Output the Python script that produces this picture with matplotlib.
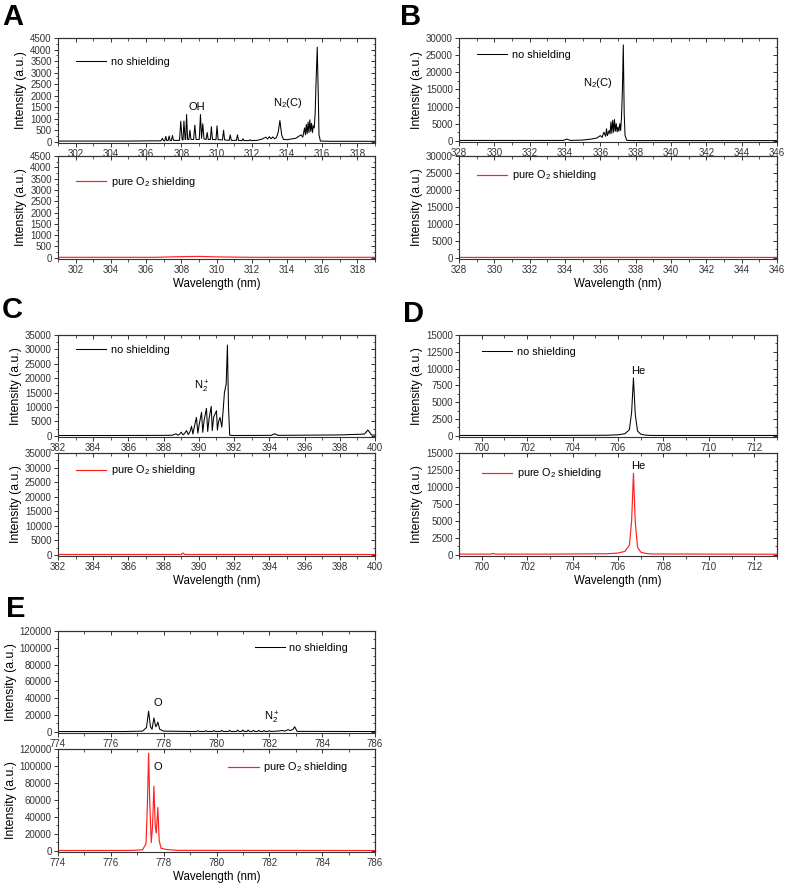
import matplotlib
matplotlib.use("Agg")
import matplotlib.pyplot as plt
from matplotlib.ticker import MultipleLocator

plt.rcParams["font.family"] = ["Liberation Sans", "DejaVu Sans"]
plt.rcParams["mathtext.fontset"] = "custom"
plt.rcParams["mathtext.rm"] = "Liberation Sans"
plt.rcParams["mathtext.it"] = "Liberation Sans"
plt.rcParams["mathtext.default"] = "regular"

# ---- spectra (wavelength nm, intensity a.u.) ----
a_top_x = [301.0, 303.0, 305.0, 306.5, 306.85, 306.93, 307.0, 307.06, 307.12, 307.18, 307.25,
           307.31, 307.37, 307.44, 307.5, 307.56, 307.9, 307.97, 308.05, 308.1, 308.15, 308.22,
           308.25, 308.3, 308.36, 308.43, 308.49, 308.55, 308.7, 308.77, 308.84, 309.02, 309.09,
           309.15, 309.22, 309.29, 309.41, 309.47, 309.53, 309.65, 309.71, 309.77, 309.97, 310.03,
           310.09, 310.34, 310.4, 310.46, 310.72, 310.78, 310.84, 311.13, 311.19, 311.25, 311.45,
           311.5, 311.55, 311.85, 311.9, 311.95, 312.3, 312.6, 312.8, 312.9, 313.0, 313.1, 313.2,
           313.3, 313.4, 313.5, 313.6, 313.7, 313.8, 314.0, 314.5, 314.8, 314.9, 315.0, 315.05,
           315.1, 315.15, 315.2, 315.25, 315.3, 315.35, 315.4, 315.45, 315.5, 315.55, 315.6,
           315.65, 315.72, 315.78, 315.82, 315.9, 316.5, 319.0]
a_top_y = [30, 30, 30, 40, 40, 150, 40, 40, 230, 50, 50,
           250, 50, 50, 270, 60, 60, 890, 80, 80, 900, 100,
           100, 1180, 100, 100, 500, 100, 100, 720, 100, 100, 1180,
           150, 780, 120, 100, 400, 100, 100, 650, 100, 90, 690,
           90, 80, 500, 80, 60, 300, 60, 60, 300, 60, 50,
           130, 50, 50, 90, 50, 60, 120, 200, 120, 220, 130, 210,
           130, 180, 400, 920, 300, 100, 90, 150, 300, 200, 600, 300,
           750, 350, 850, 400, 950, 450, 800, 400, 700, 600, 1200,
           2500, 4100, 2000, 300, 30, 20, 20]

a_bot_x = [301.0, 306.5, 308.0, 309.0, 310.0, 312.0, 319.0]
a_bot_y = [20, 20, 50, 60, 40, 20, 20]

b_top_x = [328.0, 331.0, 333.9, 334.1, 334.3, 335.0, 335.5, 335.8, 336.0, 336.1, 336.2, 336.3,
           336.35, 336.4, 336.5, 336.55, 336.6, 336.65, 336.7, 336.75, 336.8, 336.85, 336.9,
           336.95, 337.0, 337.05, 337.1, 337.15, 337.2, 337.25, 337.3, 337.35, 337.4, 337.5,
           338.0, 346.0]
b_top_y = [100, 100, 100, 500, 100, 200, 500, 800, 1500, 1000, 2500, 1300,
           3500, 1500, 3000, 2000, 5500, 2200, 6000, 2500, 6200, 2800, 5000,
           2600, 4000, 2800, 5000, 3000, 7000, 15000, 28000, 8000, 1500, 100,
           50, 50]

b_bot_x = [328.0, 337.0, 346.0]
b_bot_y = [100, 120, 100]

c_top_x = [382.0, 385.0, 388.0, 388.5, 388.7, 388.8, 388.9, 389.0, 389.1, 389.2, 389.3, 389.4,
           389.5, 389.58, 389.66, 389.72, 389.86, 389.94, 390.02, 390.15, 390.22, 390.3, 390.43,
           390.5, 390.58, 390.7, 390.76, 390.84, 391.0, 391.05, 391.12, 391.2, 391.3, 391.38,
           391.45, 391.55, 391.62, 391.68, 391.75, 392.0, 394.1, 394.3, 394.5, 398.0, 399.0,
           399.4, 399.6, 399.8, 400.0]
c_top_y = [100, 100, 150, 200, 700, 200, 500, 1250, 300, 900, 1800, 400,
           1500, 3300, 600, 2500, 6400, 900, 4000, 8100, 1200, 5500, 9500,
           1500, 6000, 10200, 1800, 6500, 8700, 2000, 5000, 6400, 3000, 9000,
           15000, 18000, 31500, 10000, 200, 100, 150, 700, 150, 300, 500,
           600, 2000, 300, 200]

c_bot_x = [382.0, 389.0, 389.1, 389.2, 400.0]
c_bot_y = [100, 100, 600, 100, 100]

d_top_x = [699.0, 703.0, 705.5, 706.0, 706.3, 706.5, 706.6, 706.68, 706.76, 706.86, 707.0,
           707.2, 707.5, 713.0]
d_top_y = [50, 50, 80, 150, 300, 900, 3500, 8600, 3200, 700, 250, 100, 50, 50]

d_bot_x = [699.0, 700.4, 700.5, 700.6, 703.0, 705.5, 706.0, 706.3, 706.5, 706.6, 706.68,
           706.76, 706.86, 707.0, 707.2, 707.5, 713.0]
d_bot_y = [100, 100, 200, 100, 100, 150, 250, 500, 1400, 5000, 12000, 4800, 1100, 400,
           200, 120, 80]

e_top_x = [774.0, 776.5, 777.2, 777.35, 777.43, 777.5, 777.56, 777.63, 777.7, 777.74, 777.78,
           777.85, 778.0, 779.0, 779.25, 779.3, 779.35, 779.55, 779.6, 779.65, 779.85, 779.9,
           779.95, 780.15, 780.2, 780.25, 780.45, 780.5, 780.55, 780.75, 780.8, 780.85, 780.95,
           781.0, 781.05, 781.15, 781.2, 781.25, 781.35, 781.4, 781.45, 781.55, 781.6, 781.65,
           781.75, 781.8, 781.85, 781.95, 782.0, 782.05, 782.3, 782.5, 782.6, 782.7, 782.8,
           782.9, 782.96, 783.05, 786.0]
e_top_y = [300, 300, 800, 5000, 24500, 6000, 3000, 16500, 6000, 8000, 11500,
           3000, 800, 400, 400, 1200, 400, 400, 1300, 400, 400, 1500,
           400, 400, 1600, 400, 400, 1800, 400, 400, 2000, 400, 400,
           2200, 400, 400, 2000, 400, 400, 1800, 400, 400, 1700, 400,
           400, 1500, 400, 400, 1400, 400, 800, 1500, 800, 2500, 1500,
           3000, 6000, 500, 300]

e_bot_x = [774.0, 776.8, 777.2, 777.33, 777.38, 777.43, 777.47, 777.53, 777.58, 777.63, 777.68,
           777.72, 777.78, 777.83, 777.9, 778.1, 778.5, 786.0]
e_bot_y = [300, 400, 1200, 8000, 50000, 115000, 60000, 9700, 30000, 76000, 30000, 21000,
           51000, 12000, 3000, 1500, 500, 300]

# ---- panel settings: x range, x tick step, y max, y major step ----
panels = {
    "A": dict(xlim=(301, 319), xmaj=2, ymax=4500, ystep=500,
              top=(a_top_x, a_top_y), bot=(a_bot_x, a_bot_y)),
    "B": dict(xlim=(328, 346), xmaj=2, ymax=30000, ystep=5000,
              top=(b_top_x, b_top_y), bot=(b_bot_x, b_bot_y)),
    "C": dict(xlim=(382, 400), xmaj=2, ymax=35000, ystep=5000,
              top=(c_top_x, c_top_y), bot=(c_bot_x, c_bot_y)),
    "D": dict(xlim=(699, 713), xmaj=2, ymax=15000, ystep=2500,
              top=(d_top_x, d_top_y), bot=(d_bot_x, d_bot_y)),
    "E": dict(xlim=(774, 786), xmaj=2, ymax=120000, ystep=20000,
              top=(e_top_x, e_top_y), bot=(e_bot_x, e_bot_y)),
}

# pixel boxes (left, top, right, bottom) for the upper and lower axes
boxes = {
    "A": ((58, 38, 375, 143), (58, 156, 375, 259)),
    "B": ((459, 38, 777, 142), (459, 156, 777, 259)),
    "C": ((58, 335, 375, 437), (58, 453, 375, 556)),
    "D": ((459, 335, 777, 437), (459, 453, 777, 556)),
    "E": ((58, 631, 375, 733), (58, 749, 375, 852)),
}
# legend anchors (axes fraction) for upper / lower axes
legend_anchor = {
    "A": ((0.057, 0.82), (0.057, 0.82)),
    "B": ((0.057, 0.885), (0.057, 0.88)),
    "C": ((0.057, 0.9), (0.057, 0.9)),
    "D": ((0.072, 0.88), (0.072, 0.87)),
    "E": ((0.915, 0.88), (0.915, 0.89)),
}
letter_pos = {"A": (2, 3), "B": (400, 3), "C": (2, 296), "D": (403, 300), "E": (6, 595)}

W, H = 787, 889
fig = plt.figure(figsize=(W / 100, H / 100), dpi=100)
fig.patch.set_facecolor("white")

SPINE = "#333333"


def add_axes_px(box):
    x0, y0, x1, y1 = box
    return fig.add_axes([x0 / W, 1 - y1 / H, (x1 - x0) / W, (y1 - y0) / H])


def set_ticks(axis, step):
    axis.set_major_locator(MultipleLocator(step))
    axis.set_minor_locator(MultipleLocator(step / 2))


def style_axes(ax, p):
    ax.set_xlim(*p["xlim"])
    ax.set_ylim(-p["ymax"] * 0.012, p["ymax"])
    set_ticks(ax.xaxis, p["xmaj"])
    set_ticks(ax.yaxis, p["ystep"])
    ax.tick_params(which="both", direction="out", labelsize=7, colors=SPINE, pad=1.5)
    ax.tick_params(which="major", length=3, width=0.7)
    ax.tick_params(which="minor", length=1.8, width=0.6)
    for s in ax.spines.values():
        s.set_color(SPINE)
        s.set_linewidth(0.8)
    # mirrored inward ticks on top and right
    sx = ax.secondary_xaxis("top")
    set_ticks(sx.xaxis, p["xmaj"])
    sx.tick_params(which="both", direction="in", labeltop=False, colors=SPINE)
    sx.tick_params(which="major", length=3, width=0.7)
    sx.tick_params(which="minor", length=1.8, width=0.6)
    sy = ax.secondary_yaxis("right")
    set_ticks(sy.yaxis, p["ystep"])
    sy.tick_params(which="both", direction="in", labelright=False, colors=SPINE)
    sy.tick_params(which="major", length=3, width=0.7)
    sy.tick_params(which="minor", length=1.8, width=0.6)
    ax.set_ylabel("Intensity (a.u.)", fontsize=8.8, labelpad=2)


axes = {}
for key, p in panels.items():
    ax_t = add_axes_px(boxes[key][0])
    ax_b = add_axes_px(boxes[key][1])
    style_axes(ax_t, p)
    style_axes(ax_b, p)
    ax_t.plot(*p["top"], color="black", lw=0.75, label="no shielding")
    ax_b.plot(*p["bot"], color="#ff2020", lw=0.85, label="pure O$_2$ shielding")
    ax_b.set_xlabel("Wavelength (nm)", fontsize=8.3, labelpad=2)
    loc = "upper right" if key == "E" else "upper left"
    for a, anc in zip((ax_t, ax_b), legend_anchor[key]):
        a.legend(loc=loc, bbox_to_anchor=anc, frameon=False, fontsize=7.8,
                 handlelength=2.8, handletextpad=0.4, borderaxespad=0, borderpad=0)
    fig.text(letter_pos[key][0] / W, 1 - letter_pos[key][1] / H, key, fontsize=21,
             fontweight="bold", ha="left", va="top")
    axes[key] = (ax_t, ax_b)

# peak labels
ann = 8
axes["A"][0].text(308.87, 1490, "OH", ha="center", va="center", fontsize=ann)
axes["A"][0].text(314.06, 1660, "N$_2$(C)", ha="center", va="center", fontsize=ann)
axes["B"][0].text(335.86, 16900, "N$_2$(C)", ha="center", va="center", fontsize=ann)
axes["C"][0].text(390.14, 17000, "N$_2^+$", ha="center", va="center", fontsize=ann)
axes["D"][0].text(706.9, 9600, "He", ha="center", va="center", fontsize=ann)
axes["D"][1].text(706.9, 13050, "He", ha="center", va="center", fontsize=ann)
axes["E"][0].text(777.76, 33900, "O", ha="center", va="center", fontsize=ann)
axes["E"][0].text(782.08, 16400, "N$_2^+$", ha="center", va="center", fontsize=ann)
axes["E"][1].text(777.76, 99000, "O", ha="center", va="center", fontsize=ann)

fig.savefig("out.png", dpi=100)
